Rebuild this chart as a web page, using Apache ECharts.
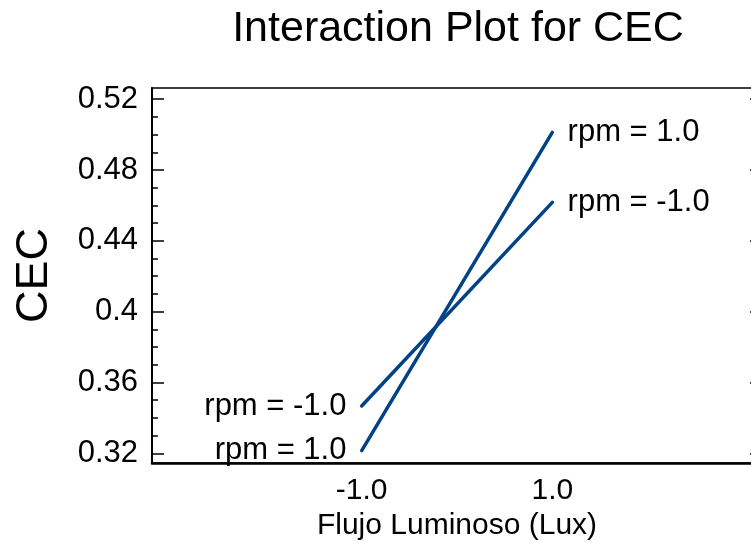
<!DOCTYPE html>
<html>
<head>
<meta charset="utf-8">
<script src="https://cdn.jsdelivr.net/npm/echarts@6/dist/echarts.min.js"></script>
<style>
  html, body { margin: 0; padding: 0; background: #fff; }
  #chart { width: 751px; height: 543px; }
</style>
</head>
<body>
<div id="chart"></div>
<script>
// Factor levels of Flujo Luminoso and mean CEC for each rpm level
const fluxLevels = [-1.0, 1.0];
const rpmLowCEC = [0.3467, 0.4617];   // rpm = -1.0
const rpmHighCEC = [0.3215, 0.5012];  // rpm = 1.0
const seriesNames = ['rpm = -1.0', 'rpm = 1.0'];

// Axis tick values
const yMajorTicks = [0.32, 0.36, 0.40, 0.44, 0.48, 0.52];
const xTickValues = [-1.0, 1.0];

const yMinorTicks = [];
for (let i = 0; i < yMajorTicks.length - 1; i++) {
  const step = (yMajorTicks[i + 1] - yMajorTicks[i]) / 4;
  for (let k = 1; k < 4; k++) yMinorTicks.push(+(yMajorTicks[i] + step * k).toFixed(4));
}

const FONT = '"Liberation Sans", Arial, Helvetica, sans-serif';
const LINE_COLOR = '#044287';
const Y_MIN = 0.3145, Y_MAX = 0.5263;

function buildSeries(name, values) {
  return {
    name: name,
    type: 'line',
    xAxisIndex: 0,
    yAxisIndex: 0,
    symbol: 'circle',
    symbolSize: 0.5,
    lineStyle: { color: LINE_COLOR, width: 3.5, cap: 'round' },
    itemStyle: { color: LINE_COLOR },
    emphasis: { disabled: true },
    data: values.map((v, i) => ({
      value: [fluxLevels[i], v],
      label: {
        show: true,
        position: i === 0 ? 'left' : 'right',
        distance: 15,
        formatter: name,
        color: '#000',
        fontSize: 31,
        fontFamily: FONT
      }
    }))
  };
}

const chart = echarts.init(document.getElementById('chart'), null, { renderer: 'canvas' });
chart.setOption({
  animation: false,
  backgroundColor: '#fff',
  title: {
    text: 'Interaction Plot for CEC',
    left: 453,
    textAlign: 'center',
    top: 3,
    textStyle: { fontSize: 43, fontWeight: 'normal', color: '#000', fontFamily: FONT }
  },
  grid: {
    left: 152,
    top: 88,
    right: -11,
    bottom: 80,
    outerBoundsMode: 'none',
    containLabel: false,
    show: true,
    borderColor: '#000',
    borderWidth: 1.5,
    backgroundColor: 'transparent'
  },
  xAxis: [{
    type: 'value',
    min: -3.2,
    max: 3.2,
    name: 'Flujo Luminoso (Lux)',
    nameLocation: 'middle',
    nameGap: 46,
    nameTextStyle: { fontSize: 30, color: '#000', fontFamily: FONT, verticalAlign: 'top' },
    axisLine: { show: true, onZero: false, lineStyle: { color: '#000', width: 2.5 } },
    axisTick: { show: false },
    splitLine: { show: false },
    axisLabel: {
      customValues: xTickValues,
      formatter: v => v.toFixed(1),
      fontSize: 30,
      color: '#000',
      fontFamily: FONT,
      margin: 13
    }
  }],
  yAxis: [{
    type: 'value',
    position: 'left',
    min: Y_MIN,
    max: Y_MAX,
    name: 'CEC',
    nameLocation: 'middle',
    nameGap: 95,
    nameRotate: 90,
    nameTextStyle: { fontSize: 45, color: '#000', fontFamily: FONT },
    axisLine: { show: true, onZero: false, lineStyle: { color: '#000', width: 2 } },
    axisTick: { show: true, inside: true, length: 12, customValues: yMajorTicks, lineStyle: { color: '#000', width: 1.5 } },
    axisLabel: {
      customValues: yMajorTicks,
      formatter: v => String(+v.toFixed(2)),
      fontSize: 31,
      color: '#000',
      fontFamily: FONT,
      margin: 14
    },
    splitLine: { show: false }
  }, {
    // minor ticks on the left edge
    type: 'value',
    position: 'left',
    min: Y_MIN,
    max: Y_MAX,
    axisLine: { show: false, onZero: false },
    axisTick: { show: true, inside: true, length: 6, customValues: yMinorTicks, lineStyle: { color: '#000', width: 1.5 } },
    axisLabel: { show: false },
    splitLine: { show: false }
  }, {
    // right edge ticks
    type: 'value',
    position: 'right',
    min: Y_MIN,
    max: Y_MAX,
    axisLine: { show: true, onZero: false, lineStyle: { color: '#000', width: 1.5 } },
    axisTick: { show: true, inside: true, length: 12, customValues: yMajorTicks, lineStyle: { color: '#000', width: 1.5 } },
    axisLabel: { show: false },
    splitLine: { show: false }
  }],
  series: [
    buildSeries(seriesNames[0], rpmLowCEC),
    buildSeries(seriesNames[1], rpmHighCEC)
  ]
});
</script>
</body>
</html>
